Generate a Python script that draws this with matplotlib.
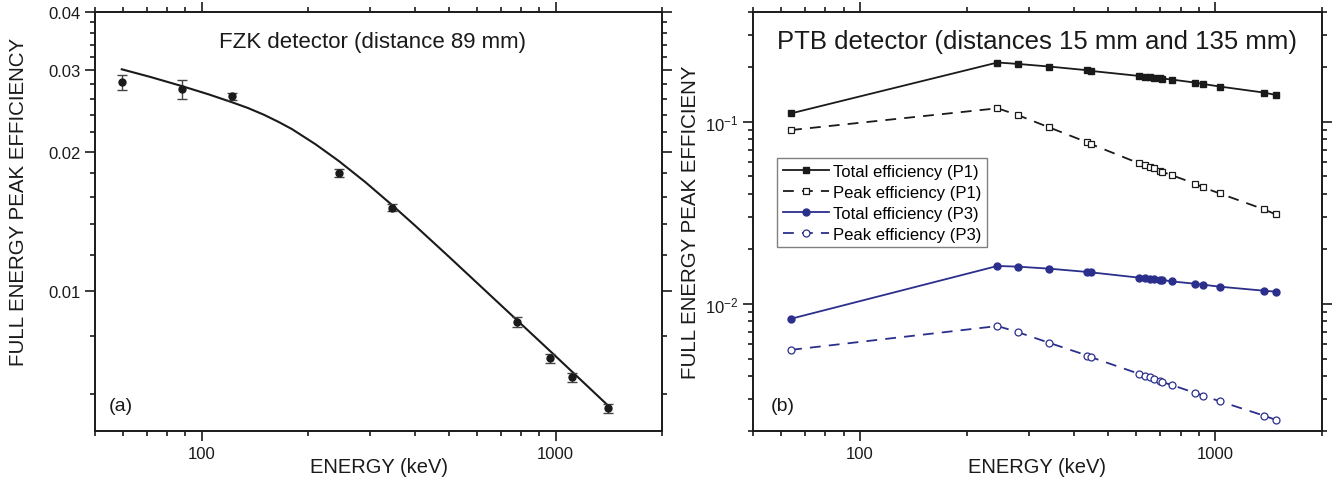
import matplotlib
matplotlib.use('Agg')
from matplotlib import pyplot as plt
from matplotlib import ticker

plt.rcParams['font.family'] = ['Liberation Sans', 'DejaVu Sans']
plt.rcParams['mathtext.fontset'] = 'custom'
plt.rcParams['mathtext.rm'] = 'Liberation Sans'

# (a) FZK detector: measured points and fitted curve
fzk_energy = [59.5, 88, 122, 244, 344, 779, 964, 1112, 1408]
fzk_eff = [0.0282, 0.0273, 0.0263, 0.0180, 0.01515, 0.00859, 0.00718, 0.00653, 0.0056]
fzk_err = [0.0010, 0.0013, 0.0004, 0.00034, 0.00025, 0.0002, 0.00016, 0.00015, 0.00013]
fit_energy = [59.5, 71.4, 88, 105, 122, 135, 150, 165, 180, 210, 244, 290, 344, 400,
              500, 779, 1000, 1408]
fit_eff = [0.0301, 0.0290, 0.02769, 0.02656, 0.02555, 0.02485, 0.02402, 0.02318,
           0.02237, 0.02074, 0.0191, 0.0172, 0.01538, 0.01388, 0.01187, 0.00866,
           0.00725, 0.00567]
fzk_yticks = [0.01, 0.02, 0.03, 0.04]
fzk_yticklabels = ['0.01', '0.02', '0.03', '0.04']
fzk_yminor = [0.006, 0.008, 0.012, 0.014, 0.016, 0.018, 0.022, 0.024, 0.026, 0.028,
              0.032, 0.034, 0.036, 0.038]

# (b) PTB detector
ptb_energy = [64, 244, 278, 341, 437, 447, 611, 635, 656, 673, 700, 710, 755, 877,
              926, 1032, 1372, 1485]
total_p1 = [0.111, 0.2112, 0.2075, 0.2007, 0.1915, 0.1899, 0.1782, 0.1769, 0.1760,
            0.1746, 0.1732, 0.1725, 0.1702, 0.1639, 0.161, 0.1558, 0.1444, 0.1401]
peak_p1 = [0.0899, 0.1184, 0.1087, 0.0930, 0.0769, 0.0753, 0.0590, 0.0577, 0.0565,
           0.0558, 0.0535, 0.0531, 0.0508, 0.0457, 0.0435, 0.0403, 0.0330, 0.0309]
total_p3 = [0.00827, 0.01612, 0.01598, 0.01558, 0.01494, 0.01487, 0.01390, 0.01378,
            0.01373, 0.01370, 0.01355, 0.01352, 0.01326, 0.01288, 0.01272, 0.01240,
            0.01179, 0.01164]
peak_p3 = [0.00558, 0.00754, 0.00699, 0.00610, 0.00519, 0.00509, 0.00412, 0.00400,
           0.00395, 0.00387, 0.00375, 0.00371, 0.00358, 0.00324, 0.00313, 0.00291,
           0.00243, 0.00230]
series_labels = ['Total efficiency (P1)', 'Peak efficiency (P1)',
                 'Total efficiency (P3)', 'Peak efficiency (P3)']

navy = '#2b2f8c'
dark = '#1a1a1a'

fig = plt.figure(figsize=(13.33, 4.85), dpi=100)
ax1 = fig.add_axes([0.0713, 0.1093, 0.4254, 0.8639])
ax2 = fig.add_axes([0.5649, 0.1093, 0.4268, 0.8639])


def style_axis(ax):
    ax.set_xscale('log')
    ax.set_yscale('log')
    ax.set_xlim(50, 2000)
    ax.xaxis.set_major_locator(ticker.FixedLocator([100, 1000]))
    ax.xaxis.set_major_formatter(ticker.FixedFormatter(['100', '1000']))
    ax.xaxis.set_minor_locator(ticker.LogLocator(subs=range(2, 10)))
    ax.xaxis.set_minor_formatter(ticker.NullFormatter())
    ax.tick_params(which='both', direction='out', top=True, right=True,
                   width=1.2, colors=dark, labelsize=12)
    ax.tick_params(which='major', length=7)
    ax.tick_params(which='minor', length=3.5)
    for sp in ax.spines.values():
        sp.set_linewidth(1.4)
        sp.set_color(dark)
    ax.set_xlabel('ENERGY (keV)', fontsize=14.5, color=dark)
    ax.xaxis.set_label_coords(0.5, -0.062)


# ---- panel (a)
style_axis(ax1)
ax1.set_ylim(0.005, 0.04)
ax1.yaxis.set_major_locator(ticker.FixedLocator(fzk_yticks))
ax1.yaxis.set_major_formatter(ticker.FixedFormatter(fzk_yticklabels))
ax1.yaxis.set_minor_locator(ticker.FixedLocator(fzk_yminor))
ax1.yaxis.set_minor_formatter(ticker.NullFormatter())
ax1.plot(fit_energy, fit_eff, color=dark, lw=1.5)
ax1.errorbar(fzk_energy, fzk_eff, yerr=fzk_err, fmt='o', color=dark, ms=5,
             ecolor='#444444', elinewidth=1.0, capsize=3.5, capthick=1.0)
ax1.text(0.49, 0.93, 'FZK detector (distance 89 mm)', transform=ax1.transAxes,
         ha='center', va='center', fontsize=16, color=dark)
ax1.text(0.045, 0.06, '(a)', transform=ax1.transAxes, ha='center', va='center',
         fontsize=14, color=dark)
ax1.set_ylabel('FULL ENERGY PEAK EFFICIENCY', fontsize=14.8, color=dark)
ax1.yaxis.set_label_coords(-0.118, 0.548)

# ---- panel (b)
style_axis(ax2)
ax2.set_ylim(0.002, 0.4)
ax2.yaxis.set_minor_locator(ticker.LogLocator(subs=range(2, 10)))
ax2.yaxis.set_minor_formatter(ticker.NullFormatter())
dash = (0, (6, 4.5))
ax2.plot(ptb_energy, total_p1, '-s', color=dark, ms=5, lw=1.3, label=series_labels[0])
ax2.plot(ptb_energy, peak_p1, marker='s', ls=dash, color=dark, ms=5, lw=1.3,
         mfc='white', mew=0.9, label=series_labels[1])
ax2.plot(ptb_energy, total_p3, '-o', color=navy, ms=5, lw=1.3, label=series_labels[2])
ax2.plot(ptb_energy, peak_p3, marker='o', ls=dash, color=navy, ms=5, lw=1.3,
         mfc='white', mew=0.9, label=series_labels[3])
ax2.text(0.5, 0.93, 'PTB detector (distances 15 mm and 135 mm)', transform=ax2.transAxes,
         ha='center', va='center', fontsize=18.5, color=dark)
ax2.text(0.052, 0.06, '(b)', transform=ax2.transAxes, ha='center', va='center',
         fontsize=14, color=dark)
ax2.set_ylabel('FULL ENERGY PEAK EFFICIENY', fontsize=14.8, color=dark)
ax2.yaxis.set_label_coords(-0.093, 0.5)
leg = ax2.legend(loc='upper left', bbox_to_anchor=(0.042, 0.652), borderaxespad=0,
                 fontsize=12, handlelength=2.8, handletextpad=0.2, borderpad=0.35,
                 labelspacing=0.36, fancybox=False, framealpha=1, numpoints=1)
leg.get_frame().set_edgecolor('#808080')
leg.get_frame().set_linewidth(1.0)

fig.savefig('out.png', dpi=100, facecolor='white')
